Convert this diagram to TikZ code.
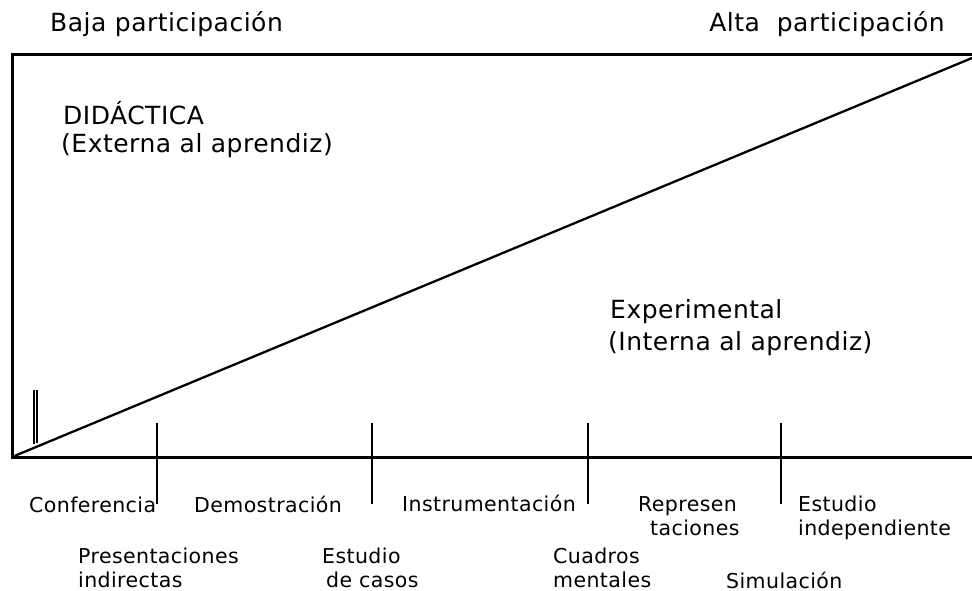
\documentclass[tikz,border=0pt]{standalone}
\usepackage{fontspec}
\setmainfont{DejaVu Sans}
\newfontfamily\bigfont[LetterSpace=2]{DejaVu Sans}
\newfontfamily\smallfont[LetterSpace=2]{DejaVu Sans}
\begin{document}
\begin{tikzpicture}[x=1pt,y=-1pt,
  bigtxt/.style={anchor=base west,inner sep=0pt,font=\bigfont\fontsize{25}{29}\selectfont},
  smalltxt/.style={anchor=base west,inner sep=0pt,font=\smallfont\fontsize{20.5}{24}\selectfont},
  frameline/.style={line width=3pt},
  diagline/.style={line width=2.3pt},
  tickline/.style={line width=2pt},
  barline/.style={line width=1.7pt}]
\useasboundingbox (0,0) rectangle (972,591);
% frame
\coordinate (tl) at (12,55);
\coordinate (tr) at (972,55);
\coordinate (bl) at (12,457);
\coordinate (br) at (972,457);
\coordinate (dr) at (972,58);
\draw[frameline,line cap=rect] (tr) -- (tl) -- (bl) -- (br);
\draw[diagline] (bl) -- (dr);
% double bar
\coordinate (b1t) at (34,390); \coordinate (b1b) at (34,444);
\coordinate (b2t) at (37,390); \coordinate (b2b) at (37,443);
\draw[barline] (b1t) -- (b1b);
\draw[barline] (b2t) -- (b2b);
% ticks
\foreach \n/\x in {ta/157,tb/372,tc/588,td/781}{
  \coordinate (\n t) at (\x,423);
  \coordinate (\n b) at (\x,504);
  \draw[tickline] (\n t) -- (\n b);
}
% top labels
\node[bigtxt] (baja) at (50,32) {Baja participación};
\node[bigtxt,anchor=base east] (alta) at (945,32) {Alta\ \ participación};
\node[bigtxt] (did1) at (63,125) {DIDÁCTICA};
\node[bigtxt] (did2) at (61,153) {(Externa al aprendiz)};
\node[bigtxt] (exp1) at (610,318) {Experimental};
\node[bigtxt] (exp2) at (608,350) {(Interna al aprendiz)};
% bottom labels
\node[smalltxt] (conf) at (29,512) {Conferencia};
\node[smalltxt] (demo) at (194,512) {Demostración};
\node[smalltxt] (inst) at (402,511) {Instrumentación};
\node[smalltxt] (rep1) at (638,511) {Represen};
\node[smalltxt] (rep2) at (650,535) {taciones};
\node[smalltxt] (ei1) at (798,511) {Estudio};
\node[smalltxt] (ei2) at (798,535) {independiente};
\node[smalltxt] (pre1) at (78,563) {Presentaciones};
\node[smalltxt] (pre2) at (78,587) {indirectas};
\node[smalltxt] (ec1) at (322,563) {Estudio};
\node[smalltxt] (ec2) at (326,587) {de casos};
\node[smalltxt] (cua1) at (553,563) {Cuadros};
\node[smalltxt] (cua2) at (553,587) {mentales};
\node[smalltxt] (sim) at (726,588) {Simulación};
\end{tikzpicture}
\end{document}
